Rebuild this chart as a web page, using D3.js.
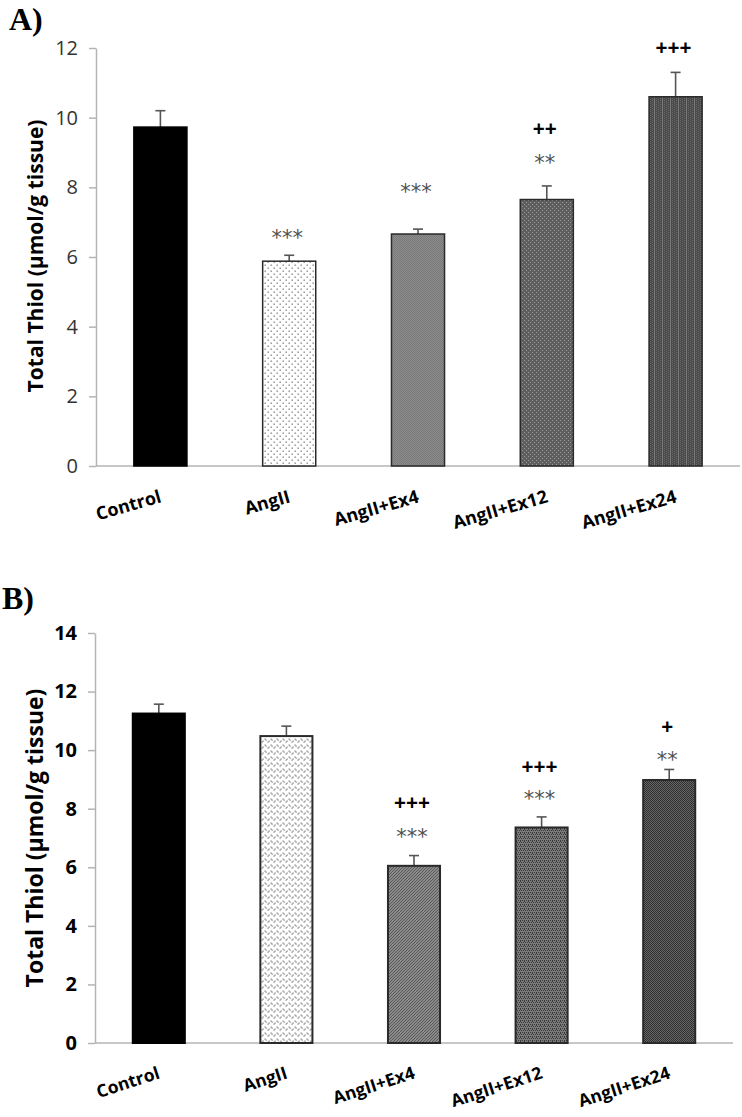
<!DOCTYPE html>
<html>
<head>
<meta charset="utf-8">
<script src="https://cdn.jsdelivr.net/npm/d3@7"></script>
<style>
  html, body { margin: 0; padding: 0; background: #fff; }
  svg { display: block; }
</style>
</head>
<body>
<svg id="chart" width="742" height="1117"></svg>
<script>
// ---------- DATA ----------
const categories = ["Control", "AngII", "AngII+Ex4", "AngII+Ex12", "AngII+Ex24"];

const meansA = [9.73, 5.88, 6.66, 7.65, 10.6];
const errorsA = [0.47, 0.17, 0.14, 0.39, 0.7];
const ticksA = [0, 2, 4, 6, 8, 10, 12];
const annotCatsA = ["AngII", "AngII+Ex4", "AngII+Ex12", "AngII+Ex12", "AngII+Ex24"];
const annotTextsA = ["***", "***", "**", "++", "+++"];
const annotLevelsA = [6.7, 8.0, 8.84, 9.67, 12.0];

const meansB = [11.25, 10.48, 6.05, 7.36, 8.98];
const errorsB = [0.32, 0.34, 0.35, 0.36, 0.36];
const ticksB = [0, 2, 4, 6, 8, 10, 12, 14];
const annotCatsB = ["AngII+Ex4", "AngII+Ex4", "AngII+Ex12", "AngII+Ex12", "AngII+Ex24", "AngII+Ex24"];
const annotTextsB = ["***", "+++", "***", "+++", "**", "+"];
const annotLevelsB = [7.2, 8.19, 8.5, 9.43, 9.83, 10.8];

const yTitle = "Total Thiol (µmol/g tissue)";

// ---------- PATTERNS ----------
const svg = d3.select("#chart");
const defs = svg.append("defs");

function patDots(id, size, bg, fg, r, pts) {
  const p = defs.append("pattern").attr("id", id).attr("patternUnits", "userSpaceOnUse")
    .attr("width", size).attr("height", size);
  p.append("rect").attr("width", size).attr("height", size).attr("fill", bg);
  pts.forEach(([x, y]) => p.append("rect").attr("x", x).attr("y", y).attr("width", r).attr("height", r).attr("fill", fg));
  return p;
}
// A patterns
patDots("aAng", 6, "#ffffff", "#8a8a8a", 1.4, [[0.5, 0.5], [3.5, 3.5]]);
patDots("aEx4", 2, "#8c8c8c", "#7a7a7a", 1, [[0, 0], [1, 1]]);
patDots("aEx12", 4, "#5e5e5e", "#9a9a9a", 1, [[0, 0], [2, 2]]);
(function () {
  const p = defs.append("pattern").attr("id", "aEx24").attr("patternUnits", "userSpaceOnUse")
    .attr("width", 8).attr("height", 2);
  p.append("rect").attr("width", 8).attr("height", 2).attr("fill", "#4a4a4a");
  p.append("rect").attr("x", 0).attr("y", 0).attr("width", 1).attr("height", 1).attr("fill", "#6a6a6a");
  p.append("rect").attr("x", 2).attr("y", 1).attr("width", 1).attr("height", 1).attr("fill", "#6a6a6a");
  p.append("rect").attr("x", 4).attr("y", 0).attr("width", 1).attr("height", 1).attr("fill", "#6a6a6a");
  p.append("rect").attr("x", 6).attr("y", 0).attr("width", 1).attr("height", 2).attr("fill", "#7a7a7a");
})();
// B patterns
patDots("bAng", 6, "#ffffff", "#7a7a7a", 1.2, [[0.5, 0.5], [1.5, 1.5], [3.5, 3.5], [4.5, 2.5]]);
patDots("bEx4", 3, "#8a8a8a", "#5a5a5a", 1, [[0, 0], [2, 1], [1, 2]]);
patDots("bEx12", 4, "#7a7a7a", "#3a3a3a", 1, [[0, 0], [2, 0], [1, 2], [3, 2], [0, 1]]);
patDots("bEx24", 2, "#666666", "#303030", 1, [[0, 0], [1, 1]]);

const fillsA = ["#000000", "url(#aAng)", "url(#aEx4)", "url(#aEx12)", "url(#aEx24)"];
const fillsB = ["#000000", "url(#bAng)", "url(#bEx4)", "url(#bEx12)", "url(#bEx24)"];

const SANS = "'Open Sans', 'Noto Sans', sans-serif";

// ---------- PANEL ----------
function drawPanel(cfg) {
  const g = svg.append("g");
  const x = d3.scaleBand().domain(categories).range(cfg.xRange)
    .paddingInner(cfg.pad).paddingOuter(cfg.pad / 2);
  const y = d3.scaleLinear().domain([0, d3.max(cfg.ticks)]).range(cfg.yRange);

  // panel letter
  g.append("text").attr("x", cfg.letterPos[0]).attr("y", cfg.letterPos[1])
    .attr("font-family", "'Liberation Serif', 'Times New Roman', serif")
    .attr("font-weight", "bold").attr("font-size", 32).attr("fill", "#000").text(cfg.letter);

  // y axis
  const ya = g.append("g").attr("transform", `translate(${cfg.xRange[0]},0)`)
    .call(d3.axisLeft(y).tickValues(cfg.ticks).tickSize(7).tickSizeOuter(0).tickPadding(11).tickFormat(d3.format("d")));
  ya.select(".domain").attr("stroke", "#b4b4b4").attr("stroke-width", 1.5);
  ya.selectAll(".tick line").attr("stroke", "#b4b4b4").attr("stroke-width", 1.5);
  ya.selectAll(".tick text").attr("font-family", SANS)
    .attr("font-size", cfg.tickSize).attr("font-weight", cfg.tickWeight).attr("fill", cfg.tickColor);

  // x axis
  const xa = g.append("g").attr("transform", `translate(0,${cfg.yRange[0]})`)
    .call(d3.axisBottom(x).tickSize(0).tickSizeOuter(0));
  xa.select(".domain").attr("stroke", "#b4b4b4").attr("stroke-width", 1.5)
    .attr("d", `M${cfg.xRange[0]},0H${cfg.xRange[1]}`);
  xa.selectAll(".tick text")
    .attr("font-family", SANS)
    .attr("font-size", cfg.catSize).attr("font-weight", "bold").attr("fill", "#000")
    .attr("text-anchor", "end").attr("dy", null).attr("y", 0)
    .attr("transform", `translate(${cfg.labelDx},${cfg.labelDy}) rotate(${cfg.labelRot})`);

  // y title
  g.append("text")
    .attr("transform", `translate(${cfg.titleX},${cfg.titleY}) rotate(-90)`)
    .attr("text-anchor", "middle").attr("dominant-baseline", "central")
    .attr("font-family", SANS).attr("font-weight", "bold")
    .attr("font-size", cfg.titleSize).attr("fill", "#000").text(yTitle);

  const rows = categories.map((c, i) => ({ c, m: cfg.means[i], e: cfg.errors[i], f: cfg.fills[i] }));

  // error bars (upper only)
  const eg = g.append("g").attr("stroke", "#555").attr("stroke-width", 1.6);
  eg.selectAll("line.v").data(rows).join("line").attr("class", "v")
    .attr("x1", d => x(d.c) + x.bandwidth() / 2).attr("x2", d => x(d.c) + x.bandwidth() / 2)
    .attr("y1", d => y(d.m)).attr("y2", d => y(d.m + d.e));
  eg.selectAll("line.h").data(rows).join("line").attr("class", "h")
    .attr("x1", d => x(d.c) + x.bandwidth() / 2 - 5).attr("x2", d => x(d.c) + x.bandwidth() / 2 + 5)
    .attr("y1", d => y(d.m + d.e)).attr("y2", d => y(d.m + d.e));

  // bars
  g.append("g").selectAll("rect").data(rows).join("rect")
    .attr("x", d => x(d.c)).attr("width", x.bandwidth())
    .attr("y", d => y(d.m)).attr("height", d => y(0) - y(d.m))
    .attr("fill", d => d.f)
    .attr("stroke", (d, i) => i === 0 ? "#000" : "#2a2a2a")
    .attr("stroke-width", cfg.barStroke);

  // annotations (centre of glyphs at the given level)
  const ann = cfg.annCats.map((c, i) => ({ c, t: cfg.annTexts[i], v: cfg.annLevels[i] }));
  g.append("g").selectAll("text").data(ann).join("text")
    .attr("x", d => x(d.c) + x.bandwidth() / 2 - 2)
    .attr("y", d => y(d.v) + (d.t.includes("+") ? 7 : 12))
    .attr("text-anchor", "middle")
    .attr("font-family", d => d.t.includes("+") ? SANS : "'DejaVu Sans', sans-serif")
    .attr("font-size", 21)
    .attr("font-weight", d => d.t.includes("+") ? "bold" : "normal")
    .attr("fill", d => d.t.includes("+") ? "#000" : "#505050")
    .text(d => d.t);
}

drawPanel({
  letter: "A)", letterPos: [9, 30],
  means: meansA, errors: errorsA, ticks: ticksA, fills: fillsA,
  annCats: annotCatsA, annTexts: annotTextsA, annLevels: annotLevelsA,
  xRange: [96, 740], yRange: [466, 48], pad: 0.588,
  tickWeight: "normal", tickColor: "#333", tickSize: 20, catSize: 18,
  labelDx: 2, labelDy: 36, labelRot: -16,
  titleX: 35, titleY: 256, titleSize: 21, barStroke: 1.5
});

drawPanel({
  letter: "B)", letterPos: [2, 609],
  means: meansB, errors: errorsB, ticks: ticksB, fills: fillsB,
  annCats: annotCatsB, annTexts: annotTextsB, annLevels: annotLevelsB,
  xRange: [95, 733], yRange: [1043, 633], pad: 0.592,
  tickWeight: "bold", tickColor: "#000", tickSize: 20, catSize: 17.5,
  labelDx: 2, labelDy: 35, labelRot: -18,
  titleX: 34, titleY: 838, titleSize: 23, barStroke: 2
});
</script>
</body>
</html>
